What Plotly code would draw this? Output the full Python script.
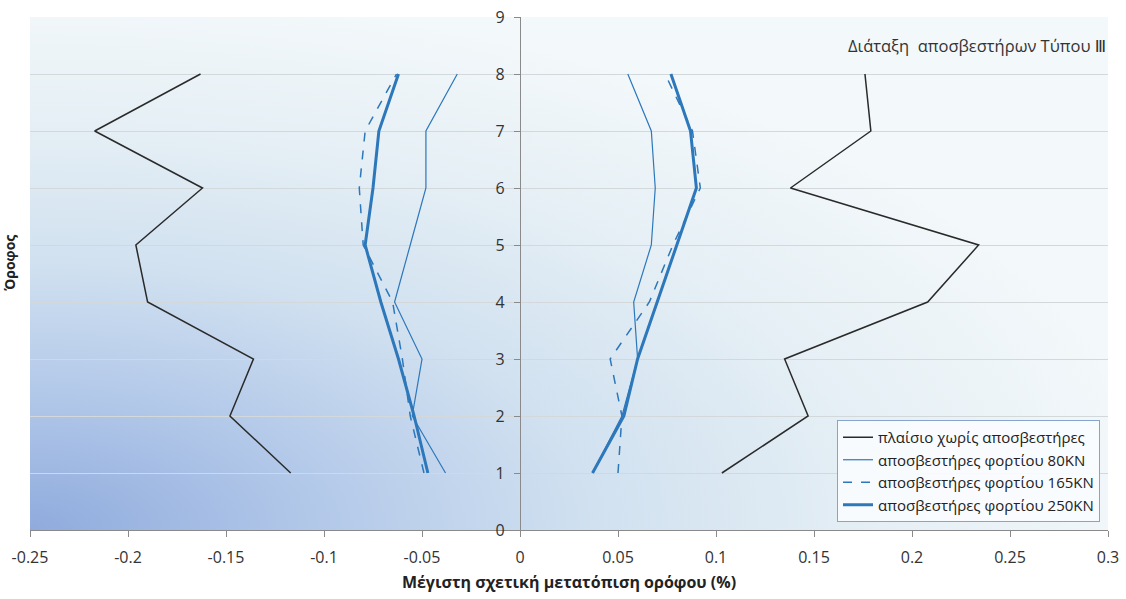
import base64
import plotly.graph_objects as go

# Floors (storey number) and peak inter-storey drift (%) for each case
floors = [1, 2, 3, 4, 5, 6, 7, 8]

no_damper_neg = [-0.117, -0.148, -0.136, -0.190, -0.196, -0.162, -0.217, -0.163]
no_damper_pos = [0.103, 0.147, 0.135, 0.208, 0.234, 0.138, 0.179, 0.176]

d80_neg = [-0.038, -0.055, -0.050, -0.064, -0.056, -0.048, -0.048, -0.032]
d80_pos = [0.037, 0.052, 0.060, 0.058, 0.067, 0.069, 0.067, 0.055]

d165_neg = [-0.049, -0.056, -0.060, -0.065, -0.080, -0.082, -0.079, -0.063]
d165_pos = [0.050, 0.052, 0.046, 0.066, 0.078, 0.092, 0.088, 0.074]

d250_neg = [-0.047, -0.054, -0.062, -0.071, -0.079, -0.075, -0.072, -0.062]
d250_pos = [0.037, 0.053, 0.060, 0.070, 0.080, 0.090, 0.087, 0.077]

series_names = [
    "πλαίσιο χωρίς αποσβεστήρες",
    "αποσβεστήρες φορτίου 80KN",
    "αποσβεστήρες φορτίου 165KN",
    "αποσβεστήρες φορτίου 250KN",
]

x_tick_vals = [-0.25, -0.2, -0.15, -0.1, -0.05, 0, 0.05, 0.1, 0.15, 0.2, 0.25, 0.3]
x_tick_text = ["-0.25", "-0.2", "-0.15", "-0.1", "-0.05", "0", "0.05", "0.1", "0.15", "0.2", "0.25", "0.3"]
y_tick_vals = [0, 1, 2, 3, 4, 5, 6, 7, 8, 9]

FONT = "'Open Sans', 'Noto Sans', 'DejaVu Sans', sans-serif"
BLUE = "#2d77bb"
BLACK = "#2a2a2a"

styles = [
    dict(color=BLACK, width=1.5),
    dict(color=BLUE, width=1.2),
    dict(color=BLUE, width=1.5, dash="dash"),
    dict(color=BLUE, width=3),
]
data_pairs = [
    (no_damper_neg, no_damper_pos),
    (d80_neg, d80_pos),
    (d165_neg, d165_pos),
    (d250_neg, d250_pos),
]

fig = go.Figure()
for name, style, (neg, pos) in zip(series_names, styles, data_pairs):
    fig.add_trace(go.Scatter(x=neg, y=floors, mode="lines", line=style,
                             name=name, legendgroup=name, showlegend=True))
    fig.add_trace(go.Scatter(x=pos, y=floors, mode="lines", line=style,
                             name=name, legendgroup=name, showlegend=False))

# Soft blue gradient behind the plot area
svg = (
    '<svg xmlns="http://www.w3.org/2000/svg" width="1078" height="513" '
    'viewBox="0 0 1078 513" preserveAspectRatio="none">'
    '<defs><radialGradient id="g" cx="0" cy="1" r="1.05" fx="0" fy="1">'
    '<stop offset="0" stop-color="#8fabdd"/>'
    '<stop offset="0.25" stop-color="#b2c8e9"/>'
    '<stop offset="0.5" stop-color="#d1e1f0"/>'
    '<stop offset="0.75" stop-color="#e5eff5"/>'
    '<stop offset="1" stop-color="#f3f8fa"/>'
    '</radialGradient></defs>'
    '<rect width="1078" height="513" fill="url(#g)"/></svg>'
)
bg_uri = "data:image/svg+xml;base64," + base64.b64encode(svg.encode()).decode()

fig.update_layout(
    width=1126, height=599,
    margin=dict(l=30, r=18, t=17, b=69),
    paper_bgcolor="white",
    plot_bgcolor="#f3f8fa",
    font=dict(family=FONT, size=14, color="#333333"),
    images=[dict(source=bg_uri, xref="paper", yref="paper", x=0, y=1,
                 sizex=1, sizey=1, sizing="stretch", xanchor="left",
                 yanchor="top", layer="below")],
    xaxis=dict(
        range=[-0.25, 0.3], tickvals=x_tick_vals, ticktext=x_tick_text,
        showgrid=False, zeroline=False, showline=True, linecolor="#8a8a8a",
        linewidth=1.3, ticks="outside", ticklen=6, tickcolor="#8a8a8a",
        ticklabelstandoff=7, automargin=False,
        tickfont=dict(size=16, color="#333333"),
        title=dict(text="<b>Μέγιστη σχετική μετατόπιση ορόφου (%)</b>",
                   font=dict(size=16, color="#222222"), standoff=9),
    ),
    yaxis=dict(
        range=[0, 9], tickvals=y_tick_vals, anchor="free",
        position=0.25 / 0.55, showgrid=True, gridcolor="#d3d8db",
        gridwidth=1, zeroline=False, showline=True, linecolor="#8a8a8a",
        linewidth=1.3, ticks="outside", ticklen=6, tickcolor="#8a8a8a",
        ticklabelstandoff=6, automargin=False,
        tickfont=dict(size=16, color="#333333"),
    ),
    legend=dict(
        x=0.9926, y=0.0156, xanchor="right", yanchor="bottom",
        bgcolor="rgba(250,252,254,0.92)", bordercolor="#87a5cc",
        borderwidth=1, font=dict(size=15, color="#222222"),
        tracegroupgap=0, itemwidth=30,
    ),
    annotations=[
        dict(text="<b>Όροφος</b>", xref="paper", yref="paper",
             x=-0.019, y=0.52, textangle=-90, showarrow=False,
             font=dict(size=14, color="#222222"), xanchor="center"),
        dict(text="Διάταξη  αποσβεστήρων Τύπου Ⅲ", xref="paper", yref="paper",
             x=1.0, y=0.944, xanchor="right", yanchor="middle",
             showarrow=False, font=dict(size=16.5, color="#333333")),
    ],
)

fig.write_html("out.html")
